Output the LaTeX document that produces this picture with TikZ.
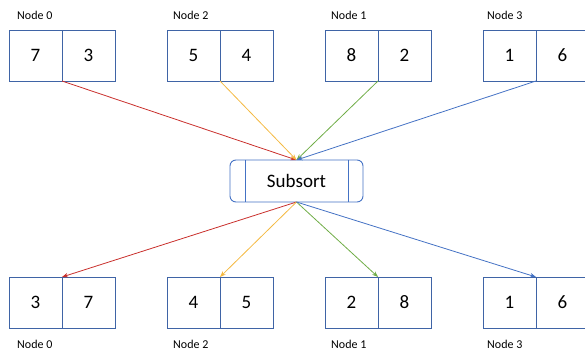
\documentclass[tikz,border=0pt]{standalone}
\usepackage{fontspec}
\setmainfont{Carlito}
\usetikzlibrary{arrows.meta,positioning}

\definecolor{boxblue}{HTML}{3F64A6}
\definecolor{arrred}{HTML}{C9302C}
\definecolor{arrorange}{HTML}{F4B942}
\definecolor{arrgreen}{HTML}{70AD47}
\definecolor{arrblue}{HTML}{4472C4}

\begin{document}
\begin{tikzpicture}[x=1pt,y=-1pt,>={Stealth[length=6pt,width=4.5pt]},
    cell/.style={draw=boxblue,line width=0.9pt,outer sep=0pt,inner sep=0pt,
                 minimum width=53pt,minimum height=51pt,font=\fontsize{19}{22}\selectfont},
    lbl/.style={anchor=west,inner sep=0pt,font=\fontsize{12}{14}\selectfont},
    link/.style={->,line width=0.8pt}]

                \useasboundingbox (0,0) rectangle (585,352);

                % top row
                \node[cell] (t0a) at (35.5,55.5) {7};
                \node[cell,right=0pt of t0a] (t0b) {3};
                \node[cell] (t2a) at (193.5,55.5) {5};
                \node[cell,right=0pt of t2a] (t2b) {4};
                \node[cell] (t1a) at (351.5,55.5) {8};
                \node[cell,right=0pt of t1a] (t1b) {2};
                \node[cell] (t3a) at (509.5,55.5) {1};
                \node[cell,right=0pt of t3a] (t3b) {6};

                \node[lbl] (tl0) at (17,15.5) {Node 0};
                \node[lbl] (tl2) at (173,15.5) {Node 2};
                \node[lbl] (tl1) at (331,15.5) {Node 1};
                \node[lbl] (tl3) at (487,15.5) {Node 3};

                % subsort
                \node[draw=arrblue,line width=0.9pt,rounded corners=6pt,minimum width=133pt,
                      minimum height=42pt,outer sep=0pt,font=\fontsize{19}{22}\selectfont]
                      (sub) at (296.5,181) {Subsort};
                \draw[arrblue,line width=0.9pt] ([xshift=15pt]sub.north west) -- ([xshift=15pt]sub.south west)
                      ([xshift=-15pt]sub.north east) -- ([xshift=-15pt]sub.south east);

                % bottom row
                \node[cell] (b0a) at (35.5,302.5) {3};
                \node[cell,right=0pt of b0a] (b0b) {7};
                \node[cell] (b2a) at (193.5,302.5) {4};
                \node[cell,right=0pt of b2a] (b2b) {5};
                \node[cell] (b1a) at (351.5,302.5) {2};
                \node[cell,right=0pt of b1a] (b1b) {8};
                \node[cell] (b3a) at (509.5,302.5) {1};
                \node[cell,right=0pt of b3a] (b3b) {6};

                \node[lbl] (bl0) at (17,344) {Node 0};
                \node[lbl] (bl2) at (173,344) {Node 2};
                \node[lbl] (bl1) at (331,344) {Node 1};
                \node[lbl] (bl3) at (487,344) {Node 3};

                \draw[link,arrred] (t0a.south east) -- (sub.north);
                \draw[link,arrorange] (t2a.south east) -- (sub.north);
                \draw[link,arrgreen] (t1a.south east) -- (sub.north);
                \draw[link,arrblue] (t3a.south east) -- (sub.north);

                \draw[link,arrred] (sub.south) -- (b0a.north east);
                \draw[link,arrorange] (sub.south) -- (b2a.north east);
                \draw[link,arrgreen] (sub.south) -- (b1a.north east);
                \draw[link,arrblue] (sub.south) -- (b3a.north east);

\end{tikzpicture}
\end{document}
